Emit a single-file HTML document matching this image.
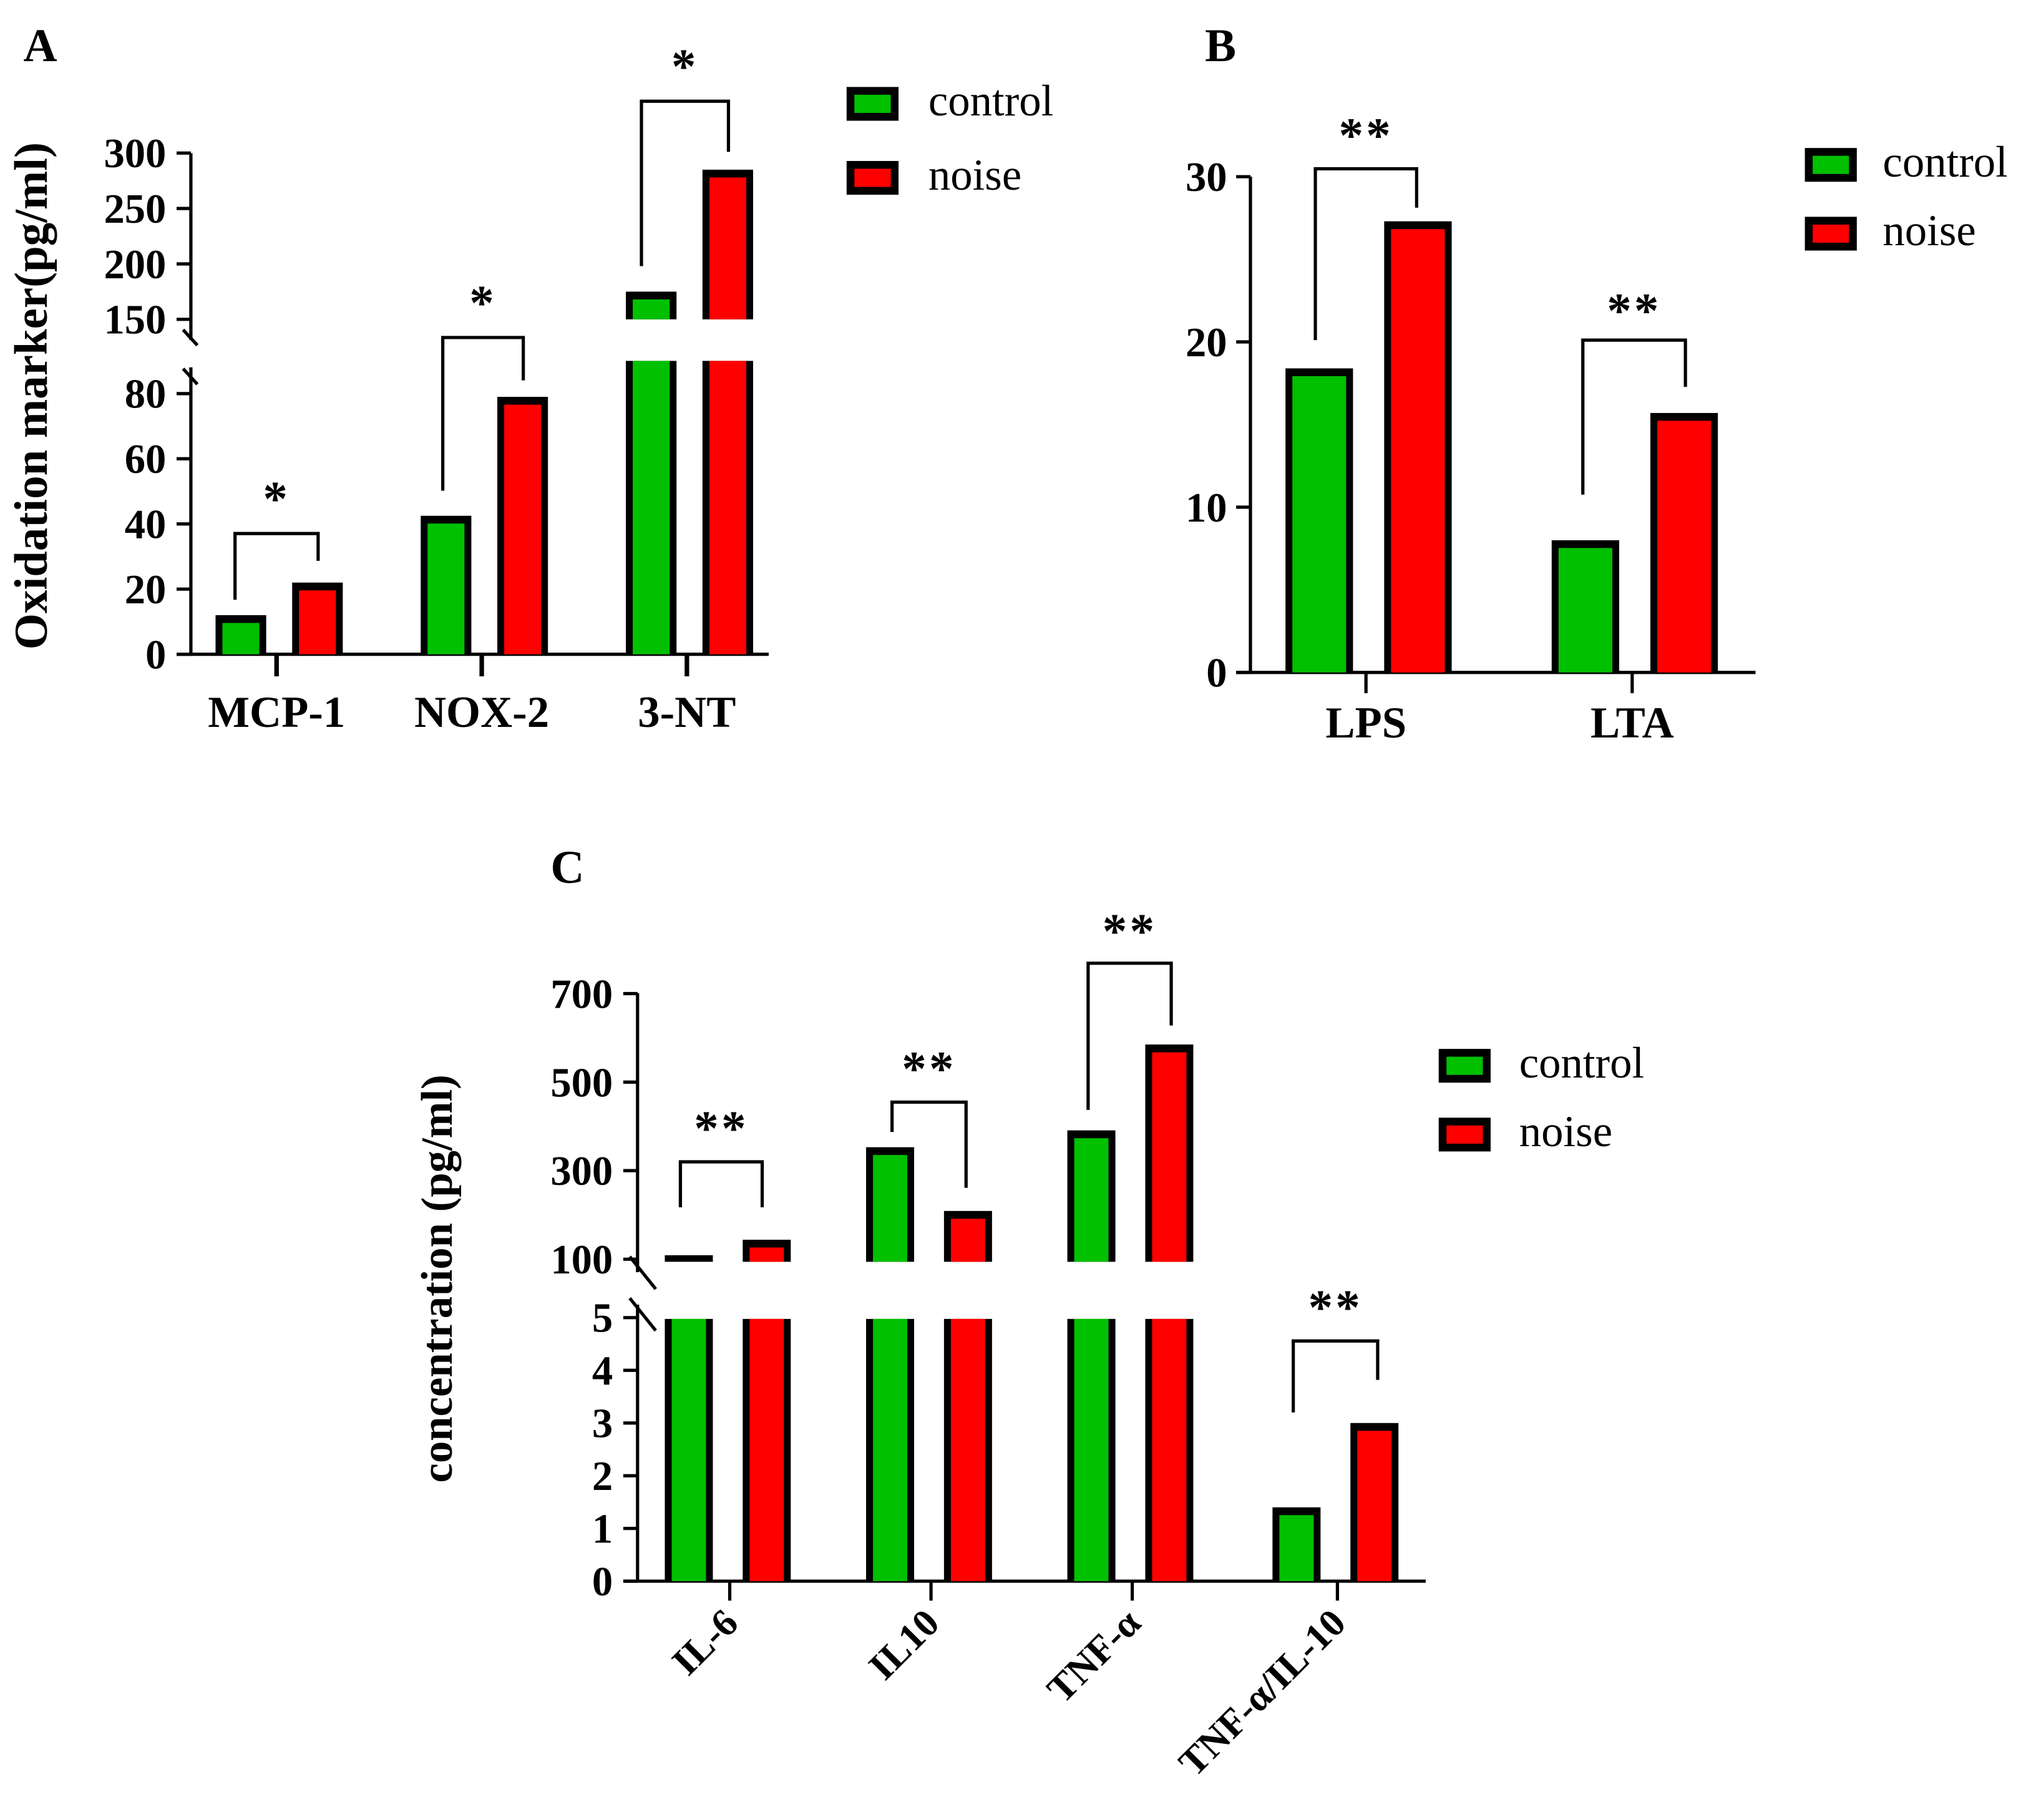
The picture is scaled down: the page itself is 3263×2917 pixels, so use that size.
<!DOCTYPE html>
<html><head><meta charset="utf-8"><style>
html,body{margin:0;padding:0;background:#fff;}
svg{display:block;}
text{font-family:"Liberation Serif",serif;fill:#000;}
</style></head><body>
<svg id="fig" width="3263" height="2917" viewBox="0 0 1568 1402" preserveAspectRatio="none" xmlns="http://www.w3.org/2000/svg"></svg>
<script>
// Panel A data
const aCategories = ["MCP-1","NOX-2","3-NT"];
const aControl = [12, 42.5, 175];
const aNoise = [22, 79, 285];
const aTicksLow = [0,20,40,60,80];
const aTicksHigh = [150,200,250,300];
// Panel B data
const bCategories = ["LPS","LTA"];
const bControl = [18.4, 8.0];
const bNoise = [27.3, 15.7];
const bTicks = [0,10,20,30];
// Panel C data
const cCategories = ["IL-6","IL10","TNF-α","TNF-α/IL-10"];
const cControl = [109, 353, 391, 1.4];
const cNoise = [144, 209, 585, 3.0];
const cTicksLow = [0,1,2,3,4,5];
const cTicksHigh = [100,300,500,700];

const NS="http://www.w3.org/2000/svg";
const svg=document.getElementById('fig');
function mk(tag,attrs,parent){const e=document.createElementNS(NS,tag);for(const k in attrs)e.setAttribute(k,attrs[k]);(parent||svg).appendChild(e);return e;}
function line(x1,y1,x2,y2,w,name){const l=mk('line',{x1,y1,x2,y2,stroke:'#000','stroke-width':w||2});


return l;}
function txt(x,y,s,size,opts,name){const t=mk('text',Object.assign({x,y,'font-size':size},opts||{}));t.textContent=s;


return t;}
function bar(x,w,yTop,yBot,color,name,topThick){
  const g=mk('g',{});
  
  
  mk('rect',{x:x,y:yTop,width:w,height:Math.max(0,yBot-yTop),fill:'#000'},g);
  const b=5.3, tb=topThick?6:0;
  const ih=yBot-yTop-tb;
  if(ih>0) mk('rect',{x:x+b,y:yTop+tb,width:w-2*b,height:ih,fill:color},g);
  return g;
}
function fullBar(x,w,yTop,yBot,color,name){
  const g=mk('g',{});
  
  
  mk('rect',{x:x,y:yTop,width:w,height:yBot-yTop,fill:'#000'},g);
  mk('rect',{x:x+5.3,y:yTop+6,width:w-10.6,height:Math.max(0,yBot-yTop-6),fill:color},g);
}
function bracket(x1,x2,y,l1,l2,stars,sy,name){
  const p=mk('path',{d:`M${x1},${l1} V${y} H${x2} V${l2}`,fill:'none',stroke:'#000','stroke-width':2.5});
  
  
  txt((x1+x2)/2,sy,stars,38,{'text-anchor':'middle','font-weight':'bold','letter-spacing':'2'},name+'-significance');
}
function legend(x,y1,y2,tx,size,prefix){
  [[y1,'#00c000','control'],[y2,'#ff0000','noise']].forEach(([y,c,l])=>{
    const r=mk('rect',{x:x+3,y:y+3,width:34,height:20,fill:c,stroke:'#000','stroke-width':6});
    
    
    txt(tx,y+22,l,size,{},prefix+'-legend-'+l);
  });
}
const TB={'font-weight':'bold','text-anchor':'end'};

// ===== Panel A =====
txt(18,47,'A',36,{'font-weight':'bold'},'panel-a-label');
function yA(v){return v>=150?246-(v-150)*42.7/50:504-v*50.2/20;}
const aBreakHi=246, aBreakLo=278;
line(147,118,147,262,2.5,'a-y-axis-upper');
line(147,283,147,505,2.5,'a-y-axis-lower');
line(136,504,592,504,2.5,'a-x-axis');
line(141,254,152,266,2.5,'a-axis-break-1');
line(141,284,152,296,2.5,'a-axis-break-2');
aTicksHigh.forEach(t=>{line(136,yA(t),147,yA(t),2.5,'a-y-tick');txt(128,yA(t)+11,String(t),32,TB,'a-y-tick-label');});
aTicksLow.forEach(t=>{line(136,yA(t),147,yA(t),2.5,'a-y-tick');txt(128,yA(t)+11,String(t),32,TB,'a-y-tick-label');});
txt(0,0,'Oxidation marker(pg/ml)',36,{'font-weight':'bold','text-anchor':'middle',transform:'translate(36,305) rotate(-90)'},'a-y-axis-title');
const aCenters=[213,371,529];
aCategories.forEach((c,i)=>{
  const cx=aCenters[i];
  line(cx,504,cx,521,3.5,'a-x-tick');
  txt(cx,560,c,34,{'font-weight':'bold','text-anchor':'middle'},'a-x-label-'+c);
  [[aControl[i],cx-47,'#00c000','control'],[aNoise[i],cx+12,'#ff0000','noise']].forEach(([v,x,col,s])=>{
    const nm='a-bar-'+c+'-'+s;
    if(v>=150){bar(x,39,yA(v),aBreakHi,col,nm,true);bar(x,39,aBreakLo,504,col,nm+'-lower',false);}
    else fullBar(x,39,yA(v),504,col,nm);
  });
});
bracket(181,245,411,462,432,'*',397,'a-mcp1');
bracket(341,403,260,378,293,'*',246,'a-nox2');
bracket(494,561,78,205,117,'*',64,'a-3nt');
legend(652,67,124,715,34,'a');

// ===== Panel B =====
txt(928,47,'B',36,{'font-weight':'bold'},'panel-b-label');
function yB(v){return 518-v*127.3/10;}
line(963,136,963,519,2.5,'b-y-axis');
line(952,518,1352,518,2.5,'b-x-axis');
bTicks.forEach(t=>{line(952,yB(t),963,yB(t),2.5,'b-y-tick');txt(945,yB(t)+11,String(t),32,TB,'b-y-tick-label');});
const bCenters=[1052,1257];
bCategories.forEach((c,i)=>{
  const cx=bCenters[i];
  line(cx,518,cx,534,2.5,'b-x-tick');
  txt(cx,568,c,34,{'font-weight':'bold','text-anchor':'middle'},'b-x-label-'+c);
  fullBar(cx-62,52,yB(bControl[i]),518,'#00c000','b-bar-'+c+'-control');
  fullBar(cx+14,52,yB(bNoise[i]),518,'#ff0000','b-bar-'+c+'-noise');
});
bracket(1013,1091,130,262,160,'**',117,'b-lps');
bracket(1219,1298,262,381,298,'**',252,'b-lta');
legend(1390,114,167,1450,34,'b');

// ===== Panel C =====
txt(424,680,'C',36,{'font-weight':'bold'},'panel-c-label');
function yC(v){return v>=100?970-(v-100)*68.2/200:1218-v*40.6;}
const cBreakHi=972, cBreakLo=1016;
line(491,765,491,980,2.5,'c-y-axis-upper');
line(491,1005,491,1219,2.5,'c-y-axis-lower');
line(480,1218,1098,1218,2.5,'c-x-axis');
line(485,968,505,993,2.5,'c-axis-break-1');
line(485,1000,505,1025,2.5,'c-axis-break-2');
cTicksHigh.forEach(t=>{line(480,yC(t),491,yC(t),2.5,'c-y-tick');txt(472,yC(t)+11,String(t),32,TB,'c-y-tick-label');});
cTicksLow.forEach(t=>{line(480,yC(t),491,yC(t),2.5,'c-y-tick');txt(472,yC(t)+11,String(t),32,TB,'c-y-tick-label');});
txt(0,0,'concentration (pg/ml)',34,{'font-weight':'bold','text-anchor':'middle',transform:'translate(348,985) rotate(-90)'},'c-y-axis-title');
const cCenters=[562,717,872,1030];
cCategories.forEach((c,i)=>{
  const cx=cCenters[i];
  line(cx,1218,cx,1233,2.5,'c-x-tick');
  txt(0,0,c,30,{'font-weight':'bold','text-anchor':'end',transform:`translate(${cx+8},${1252}) rotate(-45)`},'c-x-label-'+c);
  [[cControl[i],cx-50,'#00c000','control'],[cNoise[i],cx+10,'#ff0000','noise']].forEach(([v,x,col,s])=>{
    const nm='c-bar-'+c+'-'+s;
    if(v>=100){bar(x,37,yC(v),cBreakHi,col,nm,true);bar(x,37,cBreakLo,1218,col,nm+'-lower',false);}
    else fullBar(x,37,yC(v),1218,col,nm);
  });
});
bracket(524,587,895,930,930,'**',882,'c-il6');
bracket(687,744,849,872,915,'**',836,'c-il10');
bracket(838,902,742,855,790,'**',730,'c-tnf');
bracket(996,1061,1033,1088,1063,'**',1020,'c-ratio');
legend(1108,808,861,1170,34,'c');
</script>
</body></html>
